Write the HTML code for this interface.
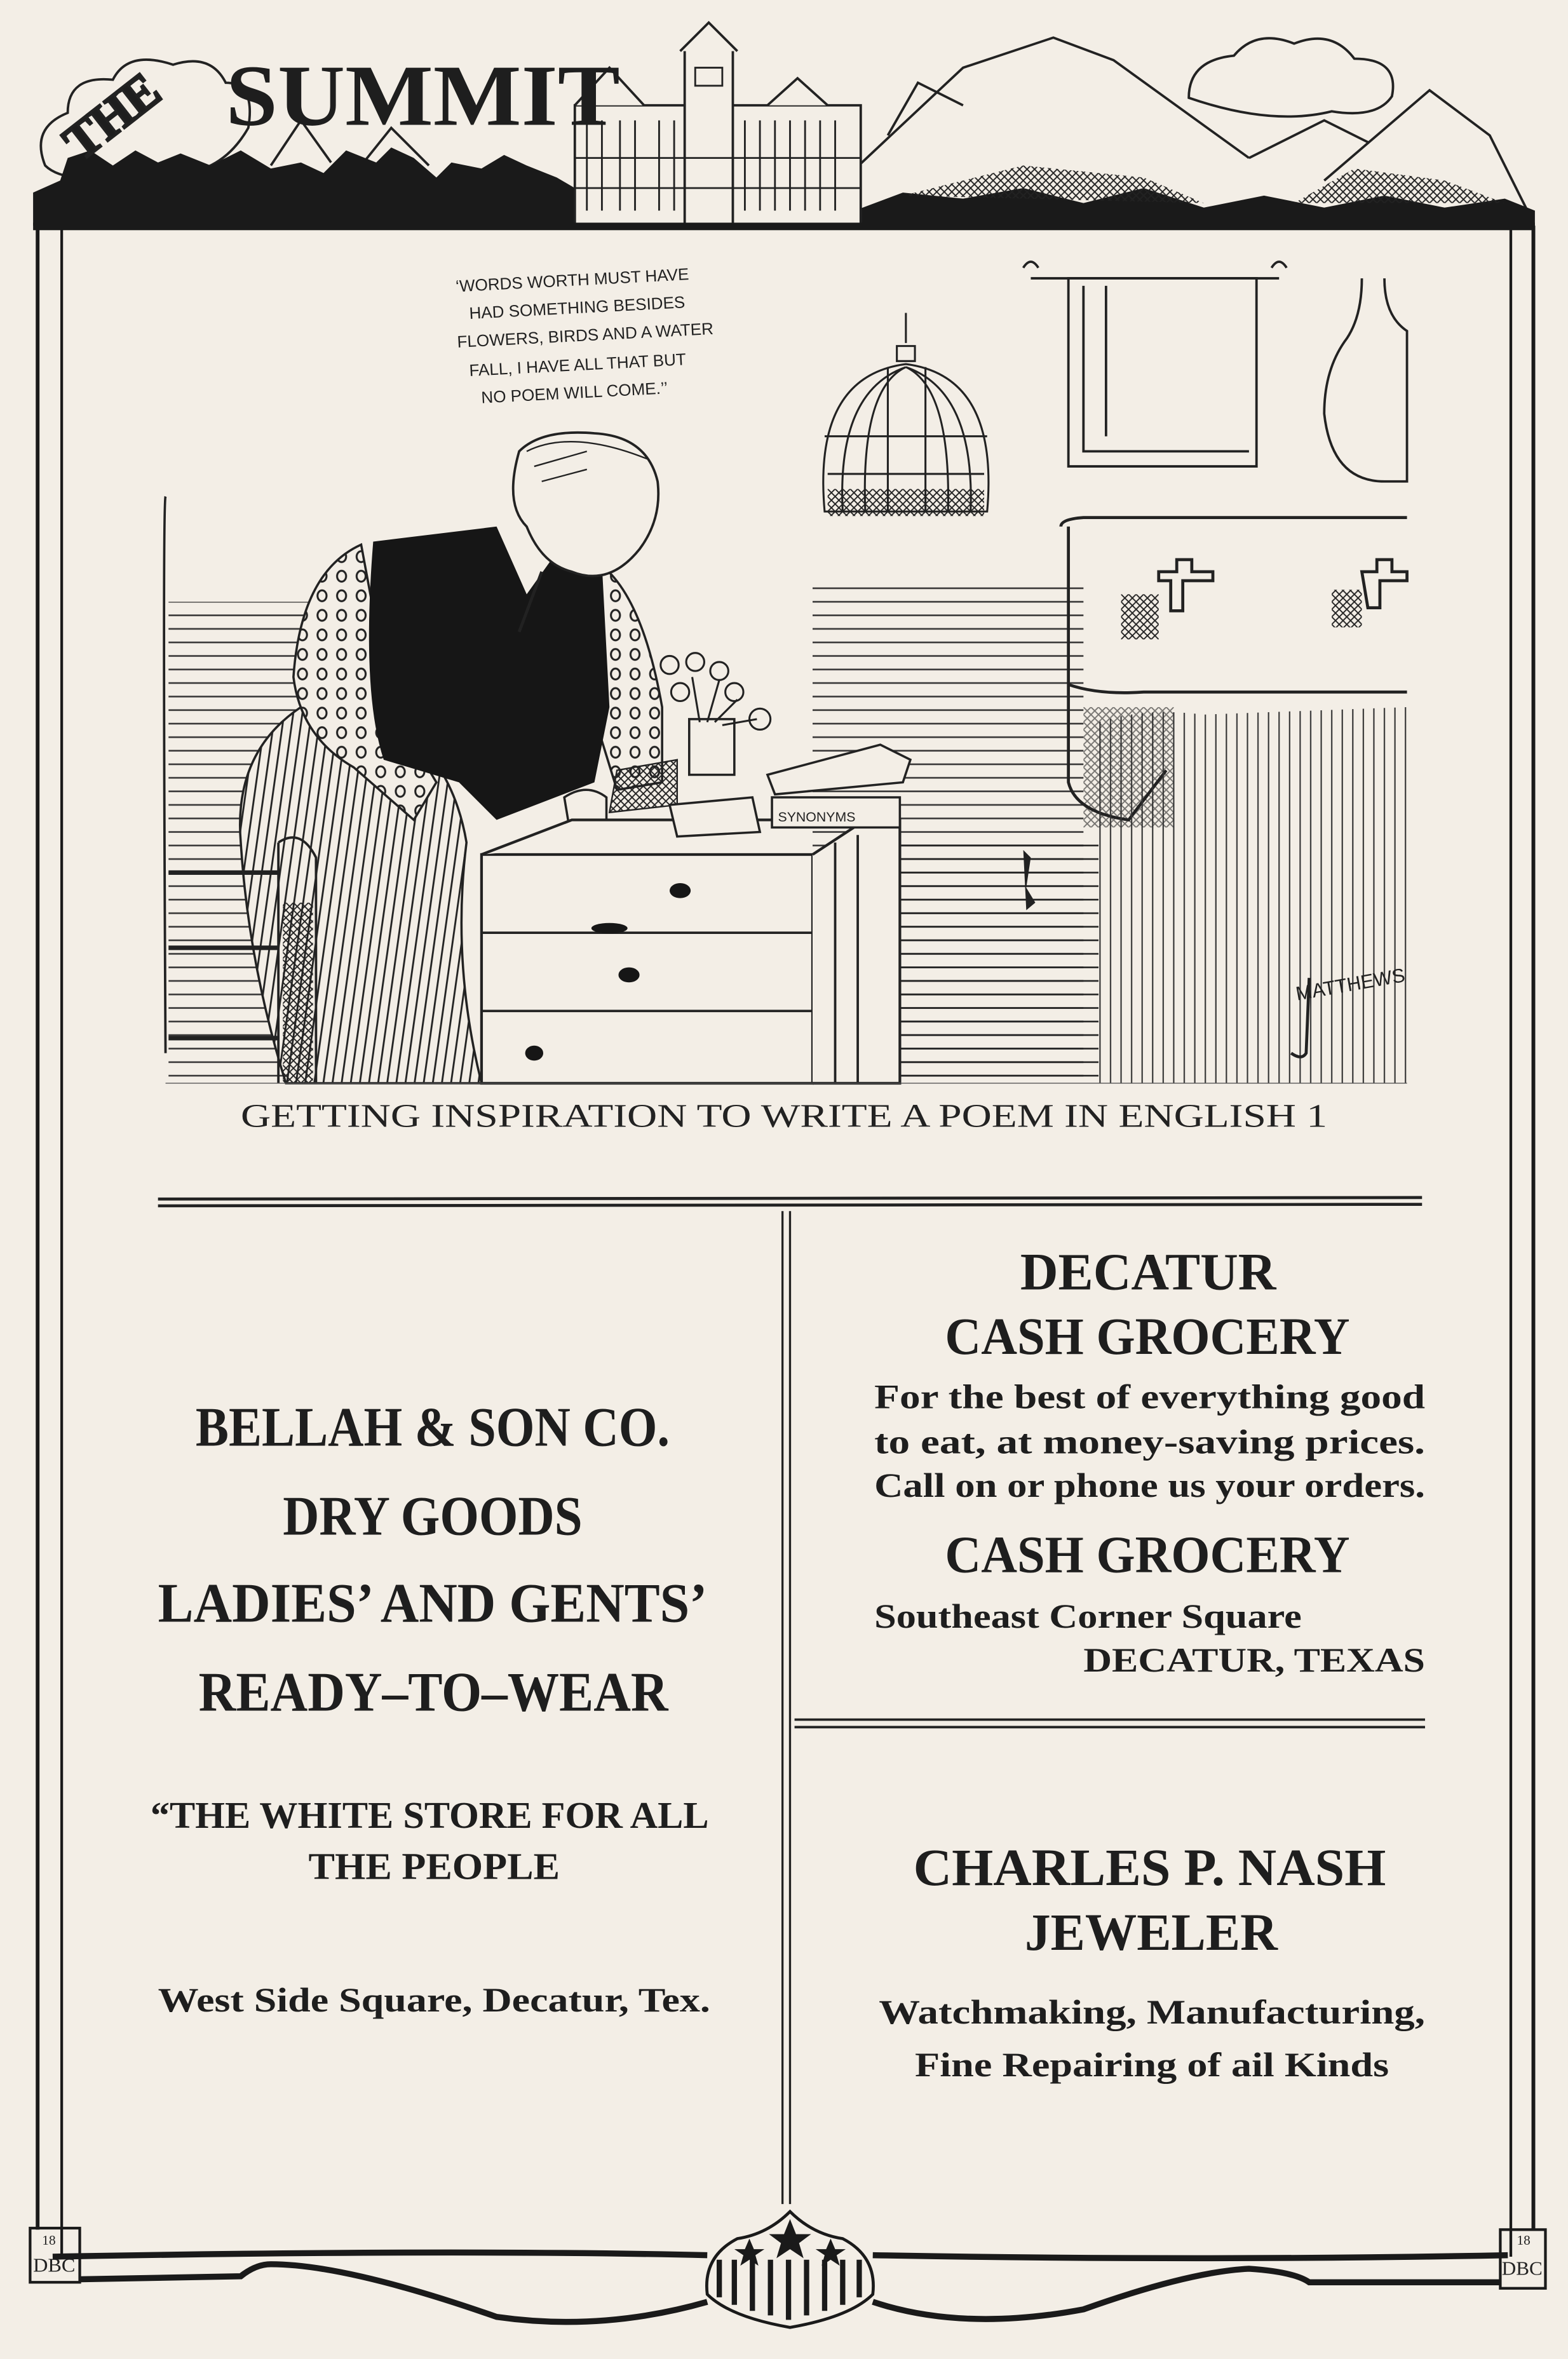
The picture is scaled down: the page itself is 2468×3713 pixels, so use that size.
<!DOCTYPE html>
<html><head><meta charset="utf-8"><style>
html,body{margin:0;padding:0;background:#f3eee6;}
svg{display:block}
.t{font-family:"Liberation Serif",serif;font-weight:bold;fill:#1e1e1e}
.c{font-family:"Liberation Serif",serif;fill:#222}
.h{font-family:"Liberation Sans",sans-serif;fill:#222}
</style></head><body>
<svg width="2468" height="3713" viewBox="0 0 1042 1568" preserveAspectRatio="none" xmlns="http://www.w3.org/2000/svg">
<defs>
<pattern id="dots" width="13" height="13" patternUnits="userSpaceOnUse"><rect width="13" height="13" fill="#f3eee6"/><ellipse cx="6" cy="6" rx="3" ry="3.6" fill="none" stroke="#222" stroke-width="1.3"/></pattern>
<pattern id="strp" width="6" height="6" patternUnits="userSpaceOnUse" patternTransform="rotate(8)"><rect width="6" height="6" fill="#f3eee6"/><line x1="1" y1="0" x2="1" y2="6" stroke="#222" stroke-width="1.2"/></pattern>
<pattern id="hz" width="40" height="9" patternUnits="userSpaceOnUse"><line x1="0" y1="4" x2="40" y2="4" stroke="#222" stroke-width="1.1"/></pattern>
<pattern id="vt" width="7" height="40" patternUnits="userSpaceOnUse"><line x1="3" y1="0" x2="3" y2="40" stroke="#333" stroke-width="0.9"/></pattern>
<pattern id="xh" width="5" height="5" patternUnits="userSpaceOnUse"><path d="M0 0L5 5M5 0L0 5" stroke="#222" stroke-width="0.8"/></pattern>
</defs>
<rect width="1042" height="1568" fill="#f3eee6"/>

<!-- HEADER -->
<g fill="none" stroke="#222" stroke-width="1.6">
<path d="M30 110 q-10-25 15-35 q0-25 30-22 q10-20 40-10 q25-8 35 12 q20 0 15 30 q-20 35-60 30 q-60 10-75-5z"/>
<path d="M790 65 q0-25 30-28 q15-18 40-8 q25-10 40 10 q30 0 25 25 q-10 15-40 10 q-40 10-95-9z"/>
<path d="M560 120 L640 45 L700 25 L740 40 L830 105"/>
<path d="M590 90 L610 55 L640 70"/>
<path d="M880 120 L950 60 L990 90 L1015 140"/>
<path d="M830 105 L880 80 L910 95"/>
<path d="M180 110 L200 80 L220 108"/><path d="M240 110 L260 85 L285 110"/>
</g>
<path d="M22 150 L22 128 L40 120 L45 105 L60 100 L75 110 L90 100 L105 108 L120 102 L140 110 L160 100 L180 112 L200 108 L215 115 L230 100 L250 108 L260 98 L275 105 L290 118 L300 108 L320 112 L335 103 L350 110 L370 118 L382 125 L382 150 Z" fill="#1a1a1a"/>
<path d="M568 140 L600 128 L640 132 L680 125 L720 135 L760 125 L800 138 L840 130 L880 138 L920 130 L960 138 L1000 132 L1020 140 L1020 152 L568 152 Z" fill="#1a1a1a"/>
<path d="M600 130 L680 110 L760 118 L800 135 Z" fill="url(#xh)"/>
<path d="M860 135 L900 112 L960 120 L1000 135 Z" fill="url(#xh)"/>
<!-- building -->
<g stroke="#222" stroke-width="1.6" fill="#f3eee6">
<rect x="382" y="70" width="190" height="80"/>
<rect x="455" y="32" width="32" height="118"/>
<path d="M452 34 L471 15 L490 34"/>
<path d="M382 70 L405 45 L428 70" fill="#f3eee6"/>
<path d="M510 70 L530 52 L550 70"/>
</g>
<g fill="none" stroke="#222" stroke-width="1.2">
<path d="M390 80v60M400 80v60M412 80v60M422 80v60M438 80v60M448 80v60M495 80v60M505 80v60M515 80v60M525 80v60M535 80v60M545 80v60M555 80v60M382 105h190M382 125h190M462 45h18v12h-18z"/>
</g>
<text x="38" y="98" class="t" font-size="34" fill="#f3eee6" stroke="#222" stroke-width="1.6" transform="rotate(-38 60 80)" textLength="70" lengthAdjust="spacingAndGlyphs">THE</text>
<text x="150" y="83" class="t" font-size="58" textLength="262" lengthAdjust="spacingAndGlyphs">SUMMIT</text>

<!-- FRAME -->
<rect x="22" y="148" width="998" height="5" fill="#1a1a1a"/>
<g stroke="#1a1a1a" fill="none">
<line x1="25" y1="150" x2="25" y2="1482" stroke-width="2.5"/>
<line x1="41" y1="152" x2="41" y2="1500" stroke-width="1.8"/>
<line x1="1004" y1="152" x2="1004" y2="1500" stroke-width="1.8"/>
<line x1="1019" y1="150" x2="1019" y2="1482" stroke-width="2.5"/>
<path d="M35 1500 Q300 1495 470 1499 M580 1499 Q800 1503 1002 1499" stroke-width="4"/>
<path d="M53 1515 L160 1513 Q170 1505 180 1505 Q230 1505 330 1540 Q400 1550 470 1530 M580 1530 Q640 1550 720 1535 Q790 1510 830 1508 Q860 1510 870 1517 L997 1517" stroke-width="4"/>
<path d="M20 1481 L53 1481 L53 1517 L20 1517 Z" stroke-width="1.8"/>
<path d="M997 1482 L1027 1482 L1027 1521 L997 1521 Z" stroke-width="1.8"/>
</g>
<text x="28" y="1492" class="c" font-size="9">18</text><text x="22" y="1510" class="c" font-size="13" textLength="28" lengthAdjust="spacingAndGlyphs">DBC</text>
<text x="1008" y="1492" class="c" font-size="9">18</text><text x="998" y="1512" class="c" font-size="13" textLength="27" lengthAdjust="spacingAndGlyphs">DBC</text>
<!-- shield -->
<path d="M525 1470 Q540 1485 560 1488 Q583 1500 580 1525 Q565 1540 525 1547 Q485 1540 470 1525 Q467 1500 490 1488 Q510 1485 525 1470Z" fill="#f3eee6" stroke="#1a1a1a" stroke-width="2"/>
<g stroke="#1a1a1a" stroke-width="3.5"><path d="M478 1502v25M488 1502v30M500 1502v34M512 1502v37M524 1502v40M536 1502v37M548 1502v34M560 1502v30M571 1502v25"/></g>
<g fill="#1a1a1a"><path d="M525 1475l4 10h10l-8 6 3 10-9-6-9 6 3-10-8-6h10z"/><path d="M498 1488l3 7h7l-6 4 2 7-6-4-6 4 2-7-6-4h7z"/><path d="M552 1488l3 7h7l-6 4 2 7-6-4-6 4 2-7-6-4h7z"/></g>

<!-- CARTOON -->
<g class="h" font-size="11" fill="#222">
<text x="303" y="194" transform="rotate(-3 303 194)">‘WORDS WORTH MUST HAVE</text>
<text x="312" y="212" transform="rotate(-3 312 212)">HAD SOMETHING BESIDES</text>
<text x="304" y="231" transform="rotate(-3 304 231)">FLOWERS, BIRDS AND A WATER</text>
<text x="312" y="250" transform="rotate(-3 312 250)">FALL, I HAVE ALL THAT BUT</text>
<text x="320" y="268" transform="rotate(-3 320 268)">NO POEM WILL COME.’’</text>
</g>
<!-- hatch left/right walls -->
<rect x="112" y="400" width="120" height="320" fill="url(#hz)" opacity="0.9"/>
<rect x="540" y="390" width="180" height="330" fill="url(#hz)" opacity="0.9"/>
<rect x="590" y="560" width="140" height="160" fill="url(#hz)"/>
<path d="M110 330 Q108 335 110 700" stroke="#222" stroke-width="1.6" fill="none"/>
<!-- birdcage -->
<g fill="none" stroke="#222" stroke-width="1.3">
<path d="M602 208v20M596 230h12v10h-12zM548 340 Q540 250 602 242 Q664 250 656 340 Z"/>
<path d="M560 340 Q556 260 602 244 M575 340 Q572 258 602 244 M590 340 V244 M615 340 V244 M630 340 Q632 258 602 244 M645 340 Q648 260 602 244 M548 290h108M550 315h104"/>
</g>
<rect x="550" y="325" width="104" height="18" fill="url(#xh)"/>
<!-- towel -->
<g fill="none" stroke="#222" stroke-width="1.6">
<path d="M685 185 H850 M680 178 q5-8 10 0 M845 178 q5-8 10 0"/>
<path d="M710 185 H835 V310 H710 Z M720 190 V300 H830 M735 190 V290"/>
<path d="M905 185 q0 25-10 40 q-15 20-15 50 q5 45 40 45 h15 V220 q-15-10-15-35"/>
</g>
<!-- sink -->
<g fill="none" stroke="#222" stroke-width="2">
<path d="M705 350 Q705 345 720 344 H935 M710 350 V520 Q715 540 750 545 L775 512"/>
<path d="M710 455 Q730 462 760 460 H935"/>
<path d="M770 380 h12 v-8 h10 v8 h14 v6 h-20 v20 h-8 v-20 h-8z M905 380 h10 v-8 h10 v8 h10 v6 h-18 v18 h-8 z"/>
</g>
<rect x="745" y="395" width="25" height="30" fill="url(#xh)"/>
<rect x="885" y="392" width="20" height="25" fill="url(#xh)"/>
<rect x="720" y="470" width="60" height="80" fill="url(#xh)" opacity="0.6"/>
<path d="M730 480 Q760 470 800 475 L935 470 V720 H730 Z" fill="url(#vt)"/>
<path d="M680 565 l5 5 -3 20 6 10 -6 5z" fill="#222"/>
<!-- man -->
<path d="M200 470 Q155 500 160 560 Q165 640 190 720 H320 Q300 640 310 560 Q300 500 250 470 Z" fill="url(#strp)" stroke="#222" stroke-width="1.5"/>
<path d="M240 362 Q200 380 195 450 Q200 490 235 510 L275 545 L290 520 L260 470 Z" fill="url(#dots)" stroke="#222" stroke-width="1.5"/>
<path d="M390 370 Q425 385 440 470 L440 520 L410 525 L390 460 Z" fill="url(#dots)" stroke="#222" stroke-width="1.5"/>
<path d="M248 360 L330 350 L350 395 L375 360 L400 375 L405 470 L395 520 L330 545 L305 520 L255 505 Q240 460 248 360Z" fill="#161616"/>
<path d="M345 300 Q360 285 395 288 Q430 290 437 320 Q440 345 425 365 Q405 390 380 380 Q360 375 350 350 Q335 335 345 300Z" fill="#f3eee6" stroke="#222" stroke-width="1.6"/>
<path d="M350 300 Q380 285 430 305 M355 310 L390 300 M360 320 l30-8" stroke="#222" fill="none" stroke-width="1"/>
<path d="M360 380 L345 420" stroke="#222" stroke-width="2"/>
<path d="M410 512 L450 505 L450 535 L405 540Z" fill="url(#xh)" stroke="#222"/>
<path d="M375 530 q15-10 28 0 v18 h-25z" fill="#f3eee6" stroke="#222" stroke-width="1.5"/>
<!-- stool -->
<path d="M185 560 Q200 550 210 570 V720 M185 560 V720" fill="none" stroke="#222" stroke-width="1.6"/>
<rect x="188" y="600" width="20" height="120" fill="url(#xh)"/>
<path d="M112 580 H185 M112 630 H185 M112 690 H185" stroke="#222" stroke-width="3"/>
<!-- desk -->
<g fill="#f3eee6" stroke="#222" stroke-width="1.8">
<path d="M320 568 L540 568 L540 720 L320 720 Z"/>
<path d="M540 568 L575 545 L598 545 L598 720 L540 720" />
<path d="M320 568 L380 545 L575 545"/>
</g>
<path d="M320 620 H540 M320 672 H540 M555 560 V720 M570 555 V720" stroke="#222" stroke-width="1.6" fill="none"/>
<g fill="#161616"><ellipse cx="452" cy="592" rx="7" ry="5"/><ellipse cx="405" cy="617" rx="12" ry="3.5"/><ellipse cx="418" cy="648" rx="7" ry="5"/><ellipse cx="355" cy="700" rx="6" ry="5"/></g>
<!-- books vase -->
<g fill="#f3eee6" stroke="#222" stroke-width="1.5">
<path d="M513 530 H598 V550 H513 Z"/>
<path d="M510 515 L585 495 L605 505 L600 520 L515 528 Z"/>
<path d="M445 535 L500 530 L505 553 L450 556 Z"/>
<path d="M458 478 H488 V515 H458 Z"/>
</g>
<text x="517" y="546" class="h" font-size="9">SYNONYMS</text>
<g fill="none" stroke="#222" stroke-width="1.3"><circle cx="445" cy="442" r="6"/><circle cx="462" cy="440" r="6"/><circle cx="478" cy="446" r="6"/><circle cx="488" cy="460" r="6"/><circle cx="452" cy="460" r="6"/><circle cx="505" cy="478" r="7"/><path d="M465 480 L460 450 M470 480 L478 452 M475 480 L490 465 M480 482 L503 478"/></g>
<text x="862" y="665" class="h" font-size="13" transform="rotate(-10 862 665)">MATTHEWS</text>
<path d="M870 650 L868 700 Q865 705 858 700" stroke="#222" fill="none" stroke-width="2"/>
<line x1="110" y1="720" x2="935" y2="720" stroke="#555" stroke-width="0.6"/>

<text x="160" y="749" class="c" font-size="22" textLength="722" lengthAdjust="spacingAndGlyphs">GETTING INSPIRATION TO WRITE A POEM IN ENGLISH 1</text>

<!-- rules -->
<line x1="105" y1="797" x2="945" y2="796" stroke="#222" stroke-width="2"/>
<line x1="105" y1="801.5" x2="945" y2="800.5" stroke="#222" stroke-width="2"/>
<line x1="520" y1="805" x2="520" y2="1465" stroke="#222" stroke-width="1.4"/>
<line x1="525" y1="805" x2="525" y2="1465" stroke="#222" stroke-width="1.4"/>
<line x1="528" y1="1143" x2="947" y2="1143" stroke="#222" stroke-width="1.6"/>
<line x1="528" y1="1148" x2="947" y2="1148" stroke="#222" stroke-width="1.6"/>

<!-- LEFT AD -->
<g class="t">
<text x="130" y="961" font-size="37" textLength="315" lengthAdjust="spacingAndGlyphs">BELLAH &amp; SON CO.</text>
<text x="188" y="1020" font-size="37" textLength="199" lengthAdjust="spacingAndGlyphs">DRY GOODS</text>
<text x="105" y="1078" font-size="37" textLength="365" lengthAdjust="spacingAndGlyphs">LADIES’ AND GENTS’</text>
<text x="132" y="1137" font-size="37" textLength="312" lengthAdjust="spacingAndGlyphs">READY–TO–WEAR</text>
<text x="100" y="1215" font-size="25" textLength="371" lengthAdjust="spacingAndGlyphs">“THE WHITE STORE FOR ALL</text>
<text x="205" y="1249" font-size="25" textLength="167" lengthAdjust="spacingAndGlyphs">THE PEOPLE</text>
<text x="105" y="1337" font-size="23" textLength="367" lengthAdjust="spacingAndGlyphs">West Side Square, Decatur, Tex.</text>
</g>
<!-- RIGHT AD -->
<g class="t">
<text x="678" y="857" font-size="35" textLength="170" lengthAdjust="spacingAndGlyphs">DECATUR</text>
<text x="628" y="900" font-size="35" textLength="269" lengthAdjust="spacingAndGlyphs">CASH GROCERY</text>
<text x="581" y="936" font-size="23" textLength="366" lengthAdjust="spacingAndGlyphs">For the best of everything good</text>
<text x="581" y="966" font-size="23" textLength="366" lengthAdjust="spacingAndGlyphs">to eat, at money-saving prices.</text>
<text x="581" y="995" font-size="23" textLength="366" lengthAdjust="spacingAndGlyphs">Call on or phone us your orders.</text>
<text x="628" y="1045" font-size="35" textLength="269" lengthAdjust="spacingAndGlyphs">CASH GROCERY</text>
<text x="581" y="1082" font-size="23" textLength="284" lengthAdjust="spacingAndGlyphs">Southeast Corner Square</text>
<text x="720" y="1111" font-size="23" textLength="227" lengthAdjust="spacingAndGlyphs">DECATUR, TEXAS</text>
<text x="607" y="1253" font-size="35" textLength="314" lengthAdjust="spacingAndGlyphs">CHARLES P. NASH</text>
<text x="681" y="1296" font-size="35" textLength="168" lengthAdjust="spacingAndGlyphs">JEWELER</text>
<text x="584" y="1345" font-size="23" textLength="363" lengthAdjust="spacingAndGlyphs">Watchmaking,   Manufacturing,</text>
<text x="608" y="1380" font-size="23" textLength="315" lengthAdjust="spacingAndGlyphs">Fine Repairing of ail Kinds</text>
</g>
</svg>
</body></html>
